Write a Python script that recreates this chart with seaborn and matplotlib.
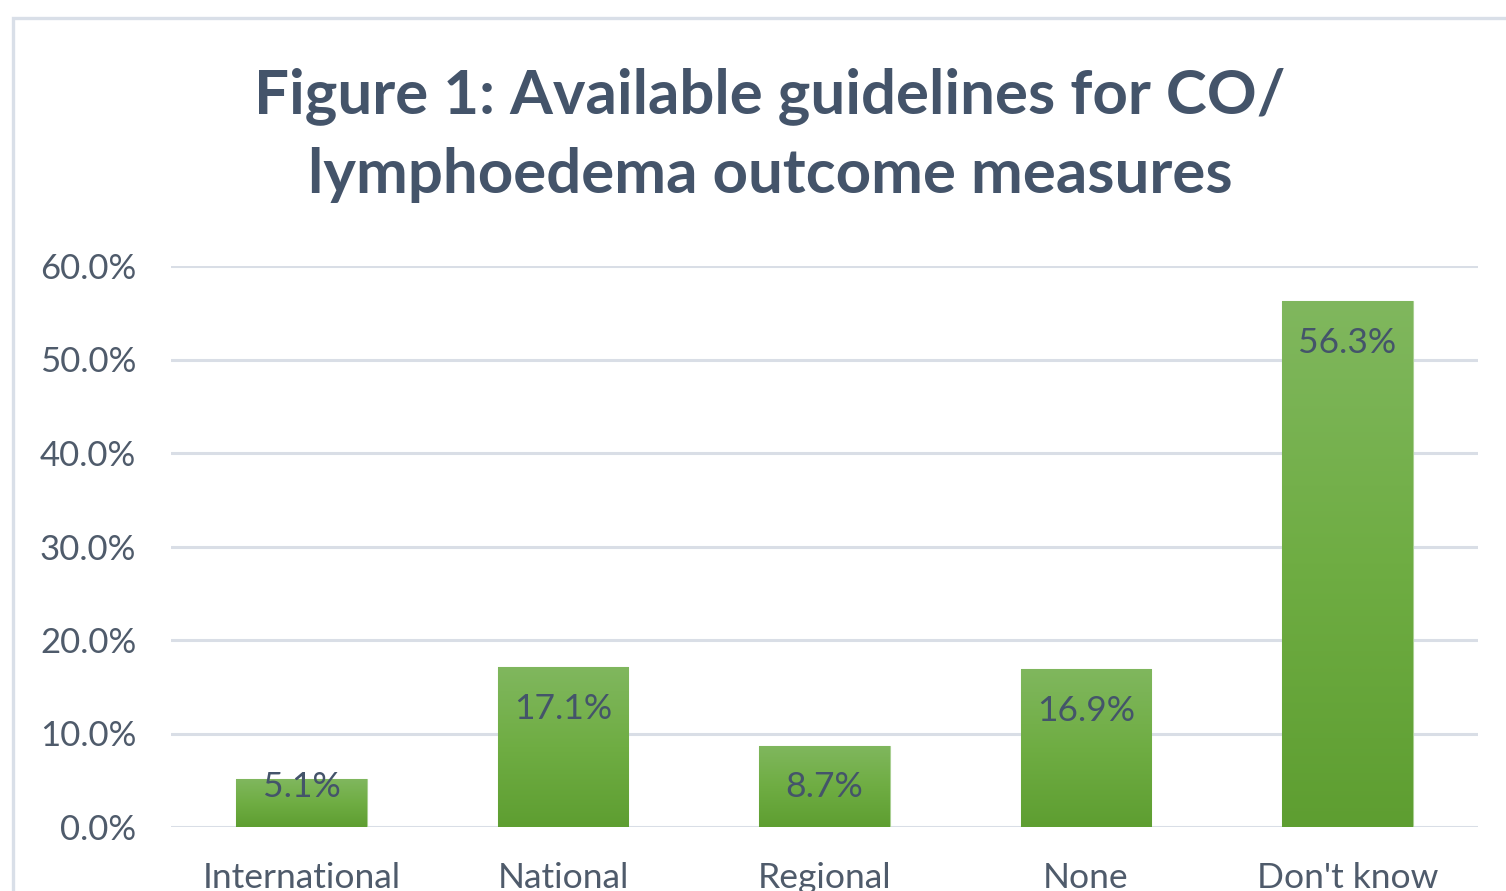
import matplotlib
matplotlib.use("Agg")
import matplotlib.pyplot as plt
import numpy as np
import seaborn as sns
from matplotlib.colors import LinearSegmentedColormap
from matplotlib.patches import Rectangle

categories = ["International", "National", "Regional", "None", "Don't know"]
values = [5.1, 17.1, 8.7, 16.9, 56.3]
value_labels = ["5.1%", "17.1%", "8.7%", "16.9%", "56.3%"]
yticks = [0, 10, 20, 30, 40, 50, 60]
ytick_labels = ["0.0%", "10.0%", "20.0%", "30.0%", "40.0%", "50.0%", "60.0%"]
title = "Figure 1: Available guidelines for CO/\nlymphoedema outcome measures"

sns.set_theme(style="white")
plt.rcParams["font.family"] = ["Lato", "DejaVu Sans"]

W, H = 1506, 891
fig = plt.figure(figsize=(W / 100, H / 100), dpi=100)
fig.patch.set_facecolor("white")

# outer chart frame
frame = Rectangle((13 / W, -0.2), 1.2, 1 - 18 / H + 0.2, transform=fig.transFigure,
                  fill=False, edgecolor="#d9dfe8", linewidth=2.4)
fig.add_artist(frame)

ax = fig.add_axes([171 / W, 1 - 827 / H, (1478 - 171) / W, (827 - 266) / H])

sns.barplot(x=categories, y=values, color="#70ad47", width=0.5, ax=ax, zorder=3)

ax.set_ylim(0, 60)
ax.set_xlim(-0.5, len(categories) - 0.5)
ax.set_yticks(yticks)
ax.set_yticklabels(ytick_labels)
ax.yaxis.grid(True, color="#d9dee6", linewidth=2.2, zorder=0)
ax.xaxis.grid(False)
ax.set_axisbelow(True)
for s in ax.spines.values():
    s.set_visible(False)
ax.set_xlabel("")
ax.set_ylabel("")
tick_color = "#4f5b6b"
ax.tick_params(axis="y", length=0, pad=25, labelsize=25, labelcolor=tick_color)
ax.tick_params(axis="x", length=0, pad=25, labelsize=25.5, labelcolor=tick_color)

# gradient fill for bars
cmap = LinearSegmentedColormap.from_list("g", ["#5e9e31", "#6fad43", "#80b75e"])
grad = np.linspace(0, 1, 256).reshape(-1, 1)
for p in ax.patches:
    x0, y0 = p.get_x(), p.get_y()
    w, h = p.get_width(), p.get_height()
    im = ax.imshow(grad, cmap=cmap, origin="lower", aspect="auto",
                   extent=(x0, x0 + w, y0, y0 + h), zorder=3.5)
    im.set_clip_path(p)
    p.set_edgecolor("#a9cf92")
    p.set_linewidth(0.8)
ax.set_xlim(-0.5, len(categories) - 0.5)
ax.set_ylim(0, 60)

for i, (v, lab) in enumerate(zip(values, value_labels)):
    ax.text(i, max(v - 4.5, 4.3), lab, ha="center", va="center", fontsize=25.5,
            color="#44546a", zorder=5)

fig.text(770 / W, 1 - 135 / H, title, ha="center", va="center", fontsize=44.5,
         fontweight="bold", color="#44546a", linespacing=1.48)

fig.savefig("out.png", dpi=100)
